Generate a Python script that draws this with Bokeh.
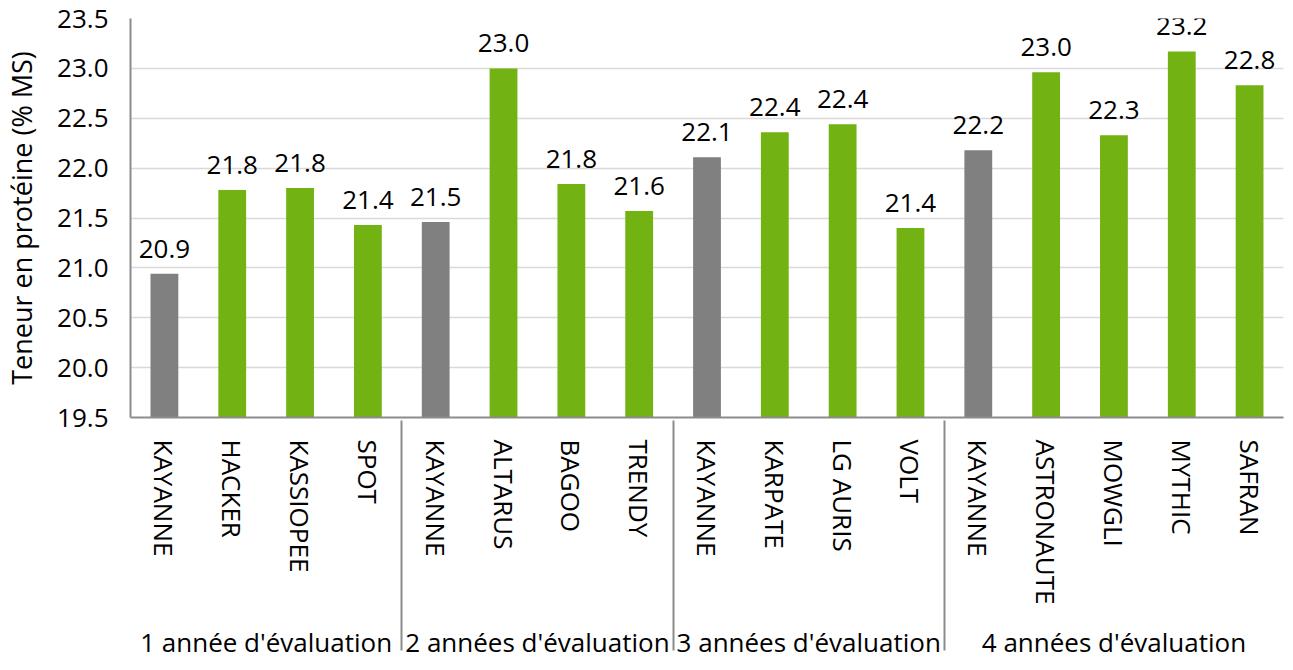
from bokeh.plotting import figure
from bokeh.models import (FactorRange, Range1d, FixedTicker, NumeralTickFormatter,
                          ColumnDataSource)
from bokeh.embed import file_html
from bokeh.resources import INLINE
from bokeh.core.properties import value

groups = ["1 année d'évaluation", "2 années d'évaluation",
          "3 années d'évaluation", "4 années d'évaluation"]
varieties = [
    ["KAYANNE", "HACKER", "KASSIOPEE", "SPOT"],
    ["KAYANNE", "ALTARUS", "BAGOO", "TRENDY"],
    ["KAYANNE", "KARPATE", "LG AURIS", "VOLT"],
    ["KAYANNE", "ASTRONAUTE", "MOWGLI", "MYTHIC", "SAFRAN"],
]
protein = [
    [20.94, 21.78, 21.80, 21.43],
    [21.46, 23.00, 21.84, 21.57],
    [22.11, 22.36, 22.44, 21.40],
    [22.18, 22.96, 22.33, 23.17, 22.83],
]
control = "KAYANNE"
y_ticks = [19.5, 20.0, 20.5, 21.0, 21.5, 22.0, 22.5, 23.0, 23.5]
y_title = "Teneur en protéine (% MS)"

GREEN = "#72B213"
GRAY = "#808080"
AXIS = "#8c8c8c"
FONT = "Open Sans"

factors, tops, colors, labels = [], [], [], []
for g, names, vals in zip(groups, varieties, protein):
    for n, v in zip(names, vals):
        factors.append((g, n))
        tops.append(v)
        colors.append(GRAY if n == control else GREEN)
        labels.append(f"{v:.1f}")

src = ColumnDataSource(dict(x=factors, top=tops, color=colors, label=labels))

p = figure(
    x_range=FactorRange(factors=factors, factor_padding=0, group_padding=0, range_padding=0),
    y_range=Range1d(y_ticks[0], y_ticks[-1]),
    width=1285, height=662, output_backend="svg", toolbar_location=None,
    min_border_left=121, min_border_right=2, min_border_top=18, min_border_bottom=242,
)
p.outline_line_color = None
p.background_fill_color = "white"

p.vbar(x="x", top="top", bottom=y_ticks[0], width=0.41, fill_color="color",
       line_color=None, source=src)
p.text(x="x", y="top", text="label", source=src, text_align="center",
       text_baseline="alphabetic", y_offset=-25, text_font=value(FONT),
       text_font_size="26px", text_color="black")

# grid
p.xgrid.grid_line_color = None
p.ygrid.grid_line_color = "#d9d9d9"
p.ygrid.grid_line_width = 1.5

# y axis
ya = p.yaxis[0]
ya.ticker = FixedTicker(ticks=y_ticks)
ya.formatter = NumeralTickFormatter(format="0.0")
ya.axis_label = y_title
ya.axis_label_text_font = FONT
ya.axis_label_text_font_size = "27px"
ya.axis_label_text_font_style = "normal"
ya.axis_label_text_color = "black"
ya.axis_label_standoff = 14
ya.major_label_text_font = FONT
ya.major_label_text_font_size = "26px"
ya.major_label_text_color = "black"
ya.major_label_standoff = 16
ya.major_tick_line_color = None
ya.minor_tick_line_color = None
ya.axis_line_color = AXIS
ya.axis_line_width = 2

# x axis
xa = p.xaxis[0]
xa.major_label_orientation = "vertical"
xa.major_label_text_font = FONT
xa.major_label_text_font_size = "26px"
xa.major_label_text_color = "black"
xa.major_label_standoff = 16
xa.group_text_font = FONT
xa.group_text_font_size = "26px"
xa.group_text_font_style = "normal"
xa.group_text_color = "black"
xa.separator_line_color = AXIS
xa.separator_line_width = 2
xa.major_tick_line_color = None
xa.minor_tick_line_color = None
xa.axis_line_color = AXIS
xa.axis_line_width = 2

open("out.html", "w").write(file_html(p, INLINE))
